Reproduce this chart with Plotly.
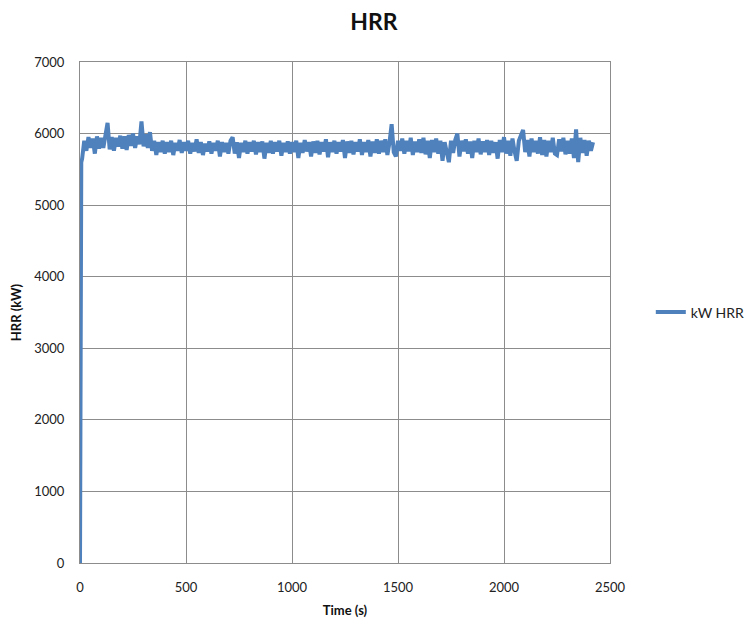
import numpy as np
import plotly.graph_objects as go

# Time (s) and HRR (kW) readings
time_start = [0, 3, 6]
time_step = 10
hrr_start = [0, 3500, 5600]
hrr_values = [
    5650, 5900, 5760, 5950, 5800, 5930, 5720, 5960, 5790, 5940,
    5800, 5970, 6150, 5780, 5950, 5760, 5940, 5820, 5970, 5790,
    5960, 5770, 5980, 5830, 6000, 5800, 5960, 5850, 6170, 5820,
    5990, 5800, 6020, 5760, 5900, 5700, 5880, 5740, 5900, 5720,
    5880, 5740, 5900, 5700, 5870, 5760, 5910, 5730, 5880, 5760,
    5900, 5720, 5870, 5750, 5920, 5730, 5880, 5700, 5860, 5750,
    5890, 5720, 5870, 5760, 5900, 5680, 5880, 5740, 5870, 5720,
    5900, 5950, 5720, 5880, 5660, 5870, 5740, 5900, 5720, 5880,
    5750, 5900, 5710, 5880, 5740, 5890, 5650, 5870, 5730, 5900,
    5720, 5880, 5750, 5900, 5690, 5870, 5740, 5890, 5720, 5880,
    5740, 5900, 5660, 5870, 5730, 5910, 5750, 5880, 5680, 5890,
    5730, 5900, 5710, 5880, 5750, 5920, 5670, 5880, 5740, 5900,
    5720, 5880, 5750, 5910, 5660, 5890, 5730, 5900, 5710, 5880,
    5750, 5920, 5700, 5880, 5740, 5910, 5680, 5890, 5730, 5920,
    5720, 5900, 5740, 5920, 5700, 5880, 6130, 5740, 5680, 5900,
    5760, 5930, 5720, 5900, 5750, 5940, 5700, 5890, 5740, 5920,
    5730, 5940, 5710, 5900, 5660, 5910, 5740, 5930, 5720, 5900,
    5620, 5880, 5740, 5600, 5900, 5730, 5910, 6000, 5680, 5900,
    5750, 5920, 5720, 5890, 5660, 5900, 5740, 5930, 5710, 5890,
    5740, 5910, 5700, 5900, 5730, 5880, 5650, 5910, 5740, 5950,
    5720, 5900, 5690, 5930, 5750, 5620, 5900, 5960, 6050, 5740,
    5910, 5680, 5930, 5740, 5900, 5720, 5950, 5700, 5910, 5680,
    5900, 5740, 5940, 5720, 5700, 5920, 5750, 5940, 5710, 5900,
    5720, 5930, 5660, 6060, 5600, 5940, 5730, 5910, 5690, 5900,
    5760, 5880,
]
time = time_start + list(np.arange(1, len(hrr_values) + 1) * time_step)
hrr = hrr_start + hrr_values

x_ticks = [0, 500, 1000, 1500, 2000, 2500]
y_ticks = [0, 1000, 2000, 3000, 4000, 5000, 6000, 7000]

FONT = "Lato, 'Open Sans', sans-serif"
GRID = "#8c8c8c"

fig = go.Figure()
fig.add_trace(go.Scatter(
    x=time, y=hrr, mode="lines", name="kW HRR",
    line=dict(color="#4F81BD", width=4),
))

fig.update_layout(
    width=748, height=618,
    margin=dict(l=80, r=138, t=62, b=55, autoexpand=False),
    paper_bgcolor="white", plot_bgcolor="white",
    font=dict(family=FONT, size=13, color="#222"),
    title=dict(text="<b>HRR</b>", x=0.5, xanchor="center", xref="container",
               y=0.965, yanchor="middle", yref="container",
               font=dict(family=FONT, size=23, color="#111")),
    showlegend=True,
    legend=dict(x=1.077, xanchor="left", y=0.5, yanchor="middle",
                font=dict(family=FONT, size=14, color="#222"),
                bgcolor="rgba(0,0,0,0)"),
)
fig.update_xaxes(
    range=[0, 2500], tickvals=x_ticks, showgrid=True, gridcolor=GRID, gridwidth=1,
    showline=True, linecolor=GRID, linewidth=1, mirror=True, zeroline=False,
    ticks="", ticklabelstandoff=12, automargin=False,
    title=dict(text="<b>Time (s)</b>", font=dict(family=FONT, size=13, color="#111"), standoff=12),
)
fig.update_yaxes(
    range=[0, 7000], tickvals=y_ticks, showgrid=True, gridcolor=GRID, gridwidth=1,
    showline=True, linecolor=GRID, linewidth=1, mirror=True, zeroline=False,
    ticks="", ticklabelstandoff=12, automargin=False,
    title=dict(text="<b>HRR (kW)</b>", font=dict(family=FONT, size=13, color="#111"), standoff=9),
)

fig.write_html("out.html", config={"displayModeBar": False},
               post_script="document.body.style.margin='0';")
